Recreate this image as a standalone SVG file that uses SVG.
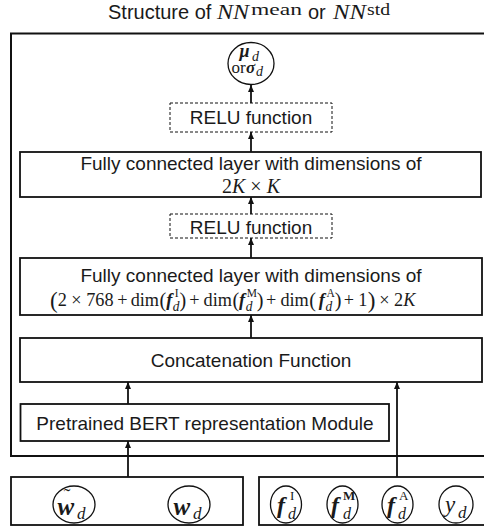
<svg xmlns="http://www.w3.org/2000/svg" width="484" height="529" viewBox="0 0 484 529">
  <style>
    .frame { fill: none; stroke: #111; stroke-width: 2; }
    .box { fill: #fff; stroke: #111; stroke-width: 1.8; }
    .dash { fill: #fff; stroke: #111; stroke-width: 1; stroke-dasharray: 3 2; }
    .node { fill: #fff; stroke: #111; stroke-width: 1.3; }
    .wire { stroke: #111; stroke-width: 1.8; fill: none; marker-end: url(#tip); }
    .lbl { font-family: "Liberation Sans", Arial, sans-serif; font-size: 19px; fill: #1a1a1a; text-anchor: middle; }
    .sans { font-family: "Liberation Sans", Arial, sans-serif; font-size: 20px; fill: #1a1a1a; }
    .m { font-family: "Liberation Serif", "DejaVu Serif", serif; font-size: 19px; fill: #1a1a1a; }
    .i { font-style: italic; }
    .bi { font-style: italic; font-weight: bold; }
    .sup { font-size: 12px; }
    .sub { font-size: 14px; font-style: italic; }
    .big { font-size: 24px; }
  </style>
  <defs>
    <marker id="tip" markerUnits="userSpaceOnUse" markerWidth="7" markerHeight="6" refX="7" refY="3" orient="auto">
      <path d="M0,0 L7,3 L0,6 z" fill="#111"/>
    </marker>
  </defs>

  <!-- title -->
  <g id="title">
    <text class="sans" x="108" y="19">Structure of</text>
    <text class="m i" x="217" y="19" style="font-size:21px" textLength="32" lengthAdjust="spacingAndGlyphs">NN</text>
    <text class="m" x="251" y="14.5" style="font-size:16px" textLength="51" lengthAdjust="spacingAndGlyphs">mean</text>
    <text class="sans" x="308" y="19">or</text>
    <text class="m i" x="333" y="19" style="font-size:21px" textLength="33" lengthAdjust="spacingAndGlyphs">NN</text>
    <text class="m" x="367" y="14.5" style="font-size:16px" textLength="23" lengthAdjust="spacingAndGlyphs">std</text>
  </g>

  <!-- enclosing network frame (continues past the right edge) -->
  <rect class="frame" x="11" y="33.5" width="490" height="422.5"/>

  <!-- connectors -->
  <g id="connectors">
    <line class="wire" x1="251" y1="103" x2="251" y2="85"/>
    <line class="wire" x1="251" y1="152" x2="251" y2="132"/>
    <line class="wire" x1="251" y1="214" x2="251" y2="197"/>
    <line class="wire" x1="251" y1="258" x2="251" y2="238"/>
    <line class="wire" x1="251" y1="338" x2="251" y2="315"/>
    <line class="wire" x1="128" y1="404" x2="128" y2="382"/>
    <line class="wire" x1="128" y1="477" x2="128" y2="441"/>
    <line class="wire" x1="397" y1="477" x2="397" y2="382"/>
  </g>

  <!-- output node -->
  <g id="output">
    <ellipse class="node" cx="251" cy="63.5" rx="23" ry="21"/>
    <text class="m bi" x="239.5" y="57" style="font-size:18px">μ</text>
    <text class="m sub" x="252" y="61">d</text>
    <text class="m" x="231.5" y="73" style="font-size:17px">or</text>
    <text class="m bi" x="246" y="73" style="font-size:17px">σ</text>
    <text class="m sub" x="256" y="76">d</text>
  </g>

  <g id="relu1">
    <rect class="dash" x="170" y="103" width="162" height="29"/>
    <text class="lbl" x="251" y="124">RELU function</text>
  </g>

  <g id="fc1">
    <rect class="box" x="20" y="152" width="461" height="45"/>
    <text class="lbl" x="251" y="170">Fully connected layer with dimensions of</text>
    <text class="m" x="222" y="193" style="font-size:20px">2<tspan class="i">K</tspan> × <tspan class="i">K</tspan></text>
  </g>

  <g id="relu2">
    <rect class="dash" x="170" y="214" width="162" height="24"/>
    <text class="lbl" x="251" y="234">RELU function</text>
  </g>

  <g id="fc2">
    <rect class="box" x="20" y="258" width="462" height="57"/>
    <text class="lbl" x="251" y="282">Fully connected layer with dimensions of</text>
    <!-- dimension formula, set in natural widths and narrowed to the box -->
    <g transform="matrix(0.96 0 0 1 2 0)">
      <text class="m big" x="50" y="308">(</text>
      <text class="m" x="58" y="306">2 × 768</text>
      <text class="m" x="120" y="306">+</text>
      <text class="m" x="134" y="306">dim</text>
      <text class="m" x="164" y="307" style="font-size:21px">(</text>
      <text class="m bi" x="171" y="306">f</text>
      <text class="m sup" x="180" y="297">I</text>
      <text class="m sub" x="178" y="311">d</text>
      <text class="m" x="185" y="307" style="font-size:21px">)</text>
      <text class="m" x="195" y="306">+</text>
      <text class="m" x="210" y="306">dim</text>
      <text class="m" x="240" y="307" style="font-size:21px">(</text>
      <text class="m bi" x="247" y="306">f</text>
      <text class="m sup" x="255" y="297">M</text>
      <text class="m sub" x="254" y="311">d</text>
      <text class="m" x="265.5" y="307" style="font-size:21px">)</text>
      <text class="m" x="275" y="306">+</text>
      <text class="m" x="290" y="306">dim</text>
      <text class="m" x="320" y="307" style="font-size:21px">(</text>
      <text class="m bi" x="330" y="306">f</text>
      <text class="m sup" x="338" y="297">A</text>
      <text class="m sub" x="337" y="311">d</text>
      <text class="m" x="346.5" y="307" style="font-size:21px">)</text>
      <text class="m" x="356" y="306">+</text>
      <text class="m" x="371" y="306">1</text>
      <text class="m big" x="381" y="308">)</text>
      <text class="m" x="393" y="306">× 2<tspan class="i">K</tspan></text>
    </g>
  </g>

  <g id="concat">
    <rect class="box" x="20" y="338" width="462" height="44"/>
    <text class="lbl" x="251" y="367">Concatenation Function</text>
  </g>

  <g id="bert">
    <rect class="box" x="20.5" y="404" width="368.5" height="37"/>
    <text class="lbl" x="205" y="429.5">Pretrained BERT representation Module</text>
  </g>

  <!-- text inputs -->
  <g id="text-inputs">
    <rect class="box" x="11" y="477" width="232" height="48"/>
    <ellipse class="node" cx="74" cy="504.5" rx="21" ry="18.5"/>
    <text class="m bi" x="57.5" y="515" style="font-size:25px">w</text>
    <text class="m" x="67" y="503" style="font-size:20px;text-anchor:middle">˜</text>
    <text class="m sub" x="77" y="519" style="font-size:17px">d</text>
    <ellipse class="node" cx="189" cy="504.5" rx="21" ry="18.5"/>
    <text class="m bi" x="173.5" y="515" style="font-size:25px">w</text>
    <text class="m sub" x="193" y="519" style="font-size:17px">d</text>
  </g>

  <!-- feature inputs (box continues past the right edge) -->
  <g id="feature-inputs">
    <rect class="box" x="259" y="477" width="240" height="48"/>
    <ellipse class="node" cx="286" cy="504.5" rx="15.5" ry="18.5"/>
    <text class="m bi" x="277" y="513" style="font-size:24px">f</text>
    <text class="m sup" x="290" y="500" style="font-size:13px">I</text>
    <text class="m sub" x="288" y="519" style="font-size:16px">d</text>
    <ellipse class="node" cx="342.5" cy="504.5" rx="15.5" ry="18.5"/>
    <text class="m bi" x="331" y="513" style="font-size:24px">f</text>
    <text class="m sup" x="343" y="500" style="font-size:13px;font-weight:bold">M</text>
    <text class="m sub" x="343" y="519" style="font-size:16px">d</text>
    <ellipse class="node" cx="397.5" cy="504.5" rx="15.5" ry="18.5"/>
    <text class="m bi" x="387" y="513" style="font-size:24px">f</text>
    <text class="m sup" x="399" y="500" style="font-size:13px">A</text>
    <text class="m sub" x="398" y="519" style="font-size:16px">d</text>
    <ellipse class="node" cx="456" cy="504.5" rx="17" ry="18.5"/>
    <text class="m i" x="445" y="512" style="font-size:23px">y</text>
    <text class="m sub" x="458" y="518" style="font-size:17px">d</text>
  </g>
</svg>
